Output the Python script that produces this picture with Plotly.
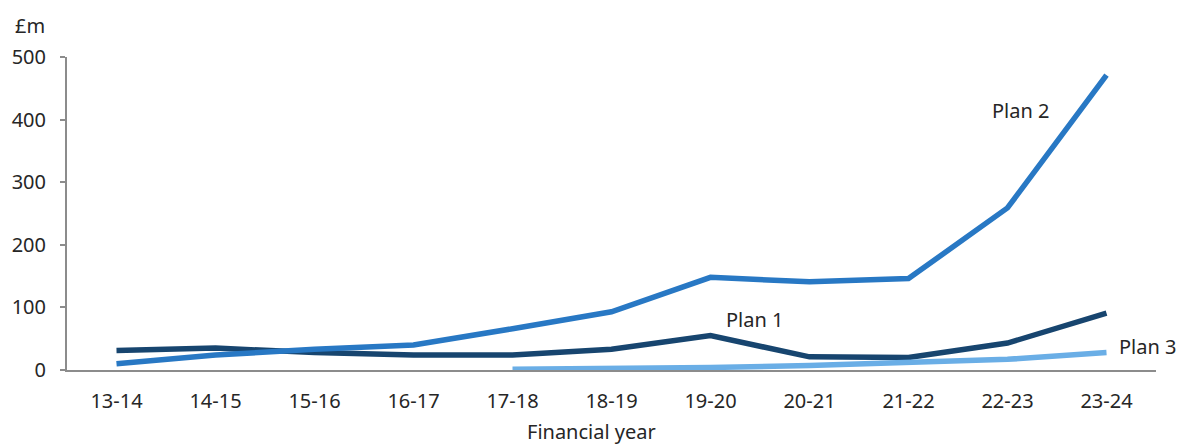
import plotly.graph_objects as go

years = ["13-14", "14-15", "15-16", "16-17", "17-18", "18-19",
         "19-20", "20-21", "21-22", "22-23", "23-24"]
plan1 = [31, 35, 28, 24, 24, 33, 55, 21, 20, 43, 91]
plan2 = [10, 24, 33, 40, 66, 93, 148, 141, 146, 259, 471]
plan3_years = years[4:]
plan3 = [1, 2, 4, 7, 11, 17, 28]

FONT = "Noto Sans"
TXT = "#262626"
AX = "#8c8c8c"
SIZE = 20

fig = go.Figure()
fig.add_trace(go.Scatter(x=years, y=plan1, mode="lines", name="Plan 1",
                         line=dict(color="#17456f", width=5.5)))
fig.add_trace(go.Scatter(x=years, y=plan2, mode="lines", name="Plan 2",
                         line=dict(color="#2878c4", width=5.5)))
fig.add_trace(go.Scatter(x=plan3_years, y=plan3, mode="lines", name="Plan 3",
                         line=dict(color="#6aaee6", width=5.5)))

lab = dict(family=FONT, size=SIZE, color=TXT)
fig.add_annotation(x="19-20", y=plan1[6], text="Plan 1", showarrow=False,
                   xshift=44, yshift=16, font=lab)
fig.add_annotation(x="22-23", y=plan2[10], text="Plan 2", showarrow=False,
                   xshift=13, yshift=-35, font=lab)
fig.add_annotation(x="23-24", y=plan3[-1], text="Plan 3", showarrow=False,
                   xshift=41, yshift=6, font=lab)
fig.add_annotation(xref="paper", yref="paper", x=-0.034, y=1.102,
                   text="£m", showarrow=False, xanchor="center", yanchor="middle",
                   font=lab)
fig.add_annotation(xref="paper", yref="paper", x=0.482, y=-0.198,
                   text="Financial year", showarrow=False,
                   xanchor="center", yanchor="middle", font=lab)

fig.update_layout(
    width=1178, height=447,
    margin=dict(l=63, r=22, t=57, b=77),
    paper_bgcolor="white", plot_bgcolor="white",
    showlegend=False,
    font=lab,
    xaxis=dict(type="category", range=[-0.5, 10.5], showgrid=False,
               showline=True, linecolor=AX, linewidth=2, ticks="",
               ticklabelstandoff=12, tickfont=lab),
    yaxis=dict(range=[0, 500], dtick=100, showgrid=False, showline=True,
               linecolor=AX, linewidth=2, ticks="outside",
               ticklen=5, tickcolor=AX, tickwidth=2, zeroline=False,
               ticklabelstandoff=10, tickfont=lab),
)

fig.write_html("out.html")
